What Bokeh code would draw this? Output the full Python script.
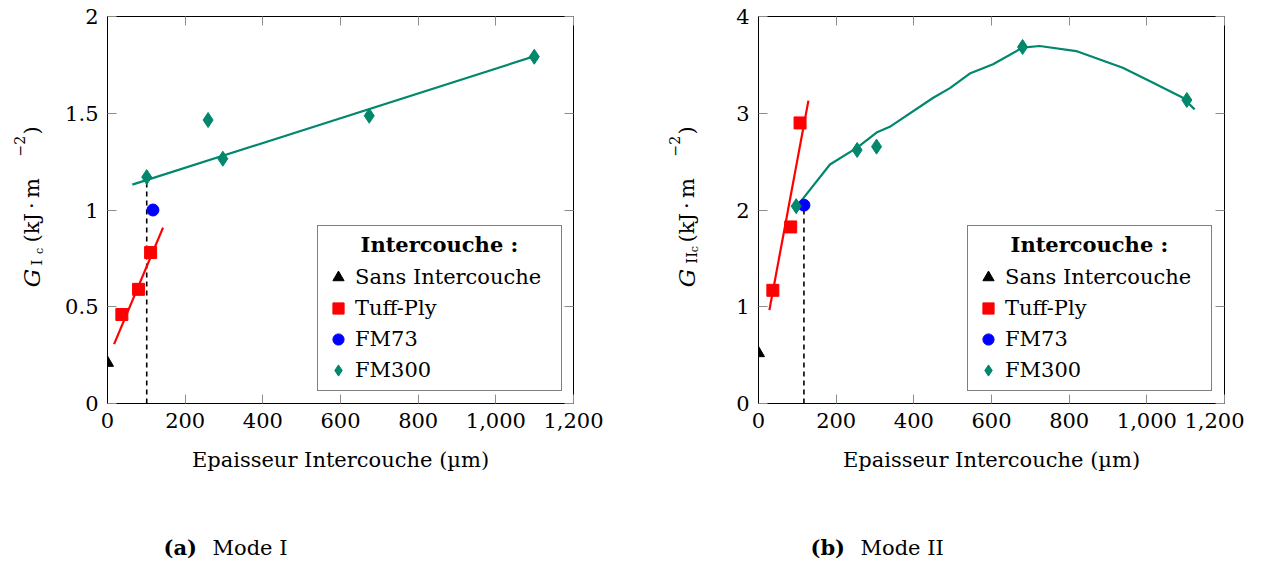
import math
from bokeh.plotting import figure
from bokeh.models import (FixedTicker, LinearAxis, Range1d, Label, Legend, LegendItem,
                          NumeralTickFormatter)
from bokeh.layouts import row, column
from bokeh.embed import file_html
from bokeh.resources import INLINE

FONT = "DejaVu Serif"
TEAL = "#00876C"
TICK_GREY = "#8c8c8c"

# ---------------- data : Mode I ----------------
sans_x_I = [0]
sans_y_I = [0.21]
tuff_x_I = [37, 80, 111]
tuff_y_I = [0.46, 0.59, 0.78]
fm73_x_I = [117]
fm73_y_I = [1.0]
fm300_x_I = [101, 259, 297, 674, 1099]
fm300_y_I = [1.17, 1.465, 1.265, 1.487, 1.792]
tuff_fit_x_I = [17, 143]
tuff_fit_y_I = [0.307, 0.909]
fm300_fit_x_I = [64, 1100]
fm300_fit_y_I = [1.131, 1.795]
dash_x_I = [101, 101]
dash_y_I = [0, 1.16]

# ---------------- data : Mode II ----------------
sans_x_II = [0]
sans_y_II = [0.52]
tuff_x_II = [37, 83, 107]
tuff_y_II = [1.17, 1.825, 2.90]
fm73_x_II = [117]
fm73_y_II = [2.05]
fm300_x_II = [97, 254, 304, 680, 1103]
fm300_y_II = [2.04, 2.62, 2.655, 3.685, 3.137]
tuff_fit_x_II = [28, 128.5]
tuff_fit_y_II = [0.965, 3.13]
fm300_curve_x_II = [111, 184, 254, 304, 338, 450, 493, 544, 604, 680, 724, 818, 938, 1007, 1093, 1123]
fm300_curve_y_II = [2.10, 2.47, 2.645, 2.80, 2.86, 3.16, 3.26, 3.41, 3.506, 3.678, 3.695, 3.643, 3.47, 3.334, 3.16, 3.04]
dash_x_II = [117, 117]
dash_y_II = [0, 2.05]

# ---------------- ticks / labels ----------------
x_ticks = [0, 200, 400, 600, 800, 1000, 1200]
y_ticks_I = [0, 0.5, 1, 1.5, 2]
y_ticks_II = [0, 1, 2, 3, 4]
x_label = "Epaisseur Intercouche (µm)"
legend_title = "Intercouche :"
legend_labels = ["Sans Intercouche", "Tuff-Ply", "FM73", "FM300"]

TOP_H = 508
FRAME_BOTTOM = 16 + 387  # page y of the plot frames' bottom edge


def mirror_axis(ticks):
    return LinearAxis(ticker=FixedTicker(ticks=ticks), major_label_text_font_size="1px",
                      major_label_text_color=None, major_label_standoff=0,
                      major_tick_in=9, major_tick_out=0, minor_tick_in=0, minor_tick_out=0,
                      axis_line_color=None, major_tick_line_color=TICK_GREY)


def make_fig(ymax, yticks, yfmt, left, right):
    p = figure(frame_width=466, frame_height=387, x_range=Range1d(0, 1200),
               y_range=Range1d(0, ymax), output_backend="svg", toolbar_location=None,
               min_border_left=left, min_border_right=right, min_border_top=16,
               min_border_bottom=TOP_H - 16 - 387)
    p.grid.visible = False
    p.outline_line_color = "black"
    p.outline_line_width = 1
    for ax, ticks, fmt in ((p.xaxis[0], x_ticks, "0,0"), (p.yaxis[0], yticks, yfmt)):
        ax.ticker = FixedTicker(ticks=ticks)
        ax.formatter = NumeralTickFormatter(format=fmt)
        ax.major_tick_in = 9
        ax.major_tick_out = 0
        ax.minor_tick_in = 0
        ax.minor_tick_out = 0
        ax.major_tick_line_color = TICK_GREY
        ax.axis_line_color = "black"
        ax.major_label_text_font = FONT
        ax.major_label_text_font_size = "21px"
        ax.major_label_text_color = "black"
        ax.major_label_standoff = 9
    p.xaxis[0].axis_label = x_label
    p.xaxis[0].axis_label_text_font = FONT
    p.xaxis[0].axis_label_text_font_size = "21px"
    p.xaxis[0].axis_label_text_font_style = "normal"
    p.xaxis[0].axis_label_text_color = "black"
    p.xaxis[0].axis_label_standoff = 17
    p.add_layout(mirror_axis(x_ticks), "above")
    p.add_layout(mirror_axis(yticks), "right")
    return p


def blank_fig(w, h, top=0, bottom=0):
    f = figure(width=w, height=h, output_backend="svg", toolbar_location=None,
               x_axis_location=None, y_axis_location=None, min_border=0,
               min_border_top=top, min_border_bottom=bottom,
               x_range=Range1d(0, 1), y_range=Range1d(0, 1))
    f.grid.visible = False
    f.outline_line_color = None
    return f


def ylabel_fig(w, base_x, roman_sub, sub_start, c_start):
    # its frame lines up with the plot frame (page y 16..403); y measured up from 403
    f = blank_fig(w, TOP_H, top=16, bottom=TOP_H - FRAME_BOTTOM)
    common = dict(x_units="screen", y_units="screen", angle=math.pi / 2,
                  text_font=FONT, text_color="black", text_align="left",
                  text_baseline="alphabetic")
    f.add_layout(Label(x=base_x, y=FRAME_BOTTOM - 286.7, text="G", text_font_size="23px",
                       text_font_style="italic", **common))
    f.add_layout(Label(x=base_x + 5.5, y=FRAME_BOTTOM - sub_start, text=roman_sub,
                       text_font_size="15px", **common))
    f.add_layout(Label(x=base_x + 7.5, y=FRAME_BOTTOM - c_start, text="c",
                       text_font_size="11px", **common))
    f.add_layout(Label(x=base_x, y=FRAME_BOTTOM - 242, text="(kJ\u2009·\u2009m",
                       text_font_size="21px", **common))
    f.add_layout(Label(x=base_x - 12, y=FRAME_BOTTOM - 156, text="−2", text_font_size="14px", **common))
    f.add_layout(Label(x=base_x, y=FRAME_BOTTOM - 134, text=")", text_font_size="21px", **common))
    return f


def populate(p, d, legend_x):
    p.line(d["dash_x"], d["dash_y"], line_color="black", line_width=1.6, line_dash="5 4")
    p.line(d["tuff_fit_x"], d["tuff_fit_y"], line_color="red", line_width=2.2)
    p.line(d["fm300_fit_x"], d["fm300_fit_y"], line_color=TEAL, line_width=2.2)
    r_s = p.scatter(d["sans_x"], d["sans_y"], marker="triangle", size=12, color="black")
    r_t = p.scatter(d["tuff_x"], d["tuff_y"], marker="square", size=12, color="red")
    r_f = p.scatter(d["fm73_x"], d["fm73_y"], marker="circle", size=12, color="blue")
    r_d = p.scatter(d["fm300_x"], d["fm300_y"], marker="diamond", size=15, color=TEAL)
    items = [LegendItem(label=lab, renderers=[r]) for lab, r in zip(legend_labels, [r_s, r_t, r_f, r_d])]
    leg = Legend(items=items, location=(legend_x, 12),
                 title="\u00a0\u00a0\u00a0\u00a0\u00a0" + legend_title,
                 title_text_font=FONT, title_text_font_style="bold", title_text_font_size="21px",
                 title_text_color="black", title_standoff=6,
                 label_text_font=FONT, label_text_font_size="21px", label_text_color="black",
                 glyph_width=28, glyph_height=28, label_height=28, label_width=200,
                 spacing=3, padding=6, label_standoff=3, margin=0,
                 border_line_color="black", border_line_width=1,
                 background_fill_color="white", background_fill_alpha=1)
    p.add_layout(leg)


# left block: y-label strip (0..50), plot (50..650)
yl1 = ylabel_fig(50, 31, "I", 265, 253.5)
p1 = make_fig(2, y_ticks_I, "0.[0]", 57, 77)
populate(p1, dict(dash_x=dash_x_I, dash_y=dash_y_I, tuff_fit_x=tuff_fit_x_I, tuff_fit_y=tuff_fit_y_I,
                  fm300_fit_x=fm300_fit_x_I, fm300_fit_y=fm300_fit_y_I,
                  sans_x=sans_x_I, sans_y=sans_y_I, tuff_x=tuff_x_I, tuff_y=tuff_y_I,
                  fm73_x=fm73_x_I, fm73_y=fm73_y_I, fm300_x=fm300_x_I, fm300_y=fm300_y_I), 210)

# right block: y-label strip (650..705), plot (705..1244)
yl2 = ylabel_fig(55, 36, "II", 263.3, 251.7)
p2 = make_fig(4, y_ticks_II, "0", 53, 20)
populate(p2, dict(dash_x=dash_x_II, dash_y=dash_y_II, tuff_fit_x=tuff_fit_x_II, tuff_fit_y=tuff_fit_y_II,
                  fm300_fit_x=fm300_curve_x_II, fm300_fit_y=fm300_curve_y_II,
                  sans_x=sans_x_II, sans_y=sans_y_II, tuff_x=tuff_x_II, tuff_y=tuff_y_II,
                  fm73_x=fm73_x_II, fm73_y=fm73_y_II, fm300_x=fm300_x_II, fm300_y=fm300_y_II), 209)

# captions strip
CAP_H = 52
cap = blank_fig(1244, CAP_H)
ccommon = dict(x_units="screen", y_units="screen", text_font=FONT, text_color="black",
               text_font_size="21px", text_baseline="alphabetic", text_align="left")
cap.add_layout(Label(x=163, y=13, text="(a)", text_font_style="bold", **ccommon))
cap.add_layout(Label(x=212, y=13, text="Mode I", **ccommon))
cap.add_layout(Label(x=810, y=13, text="(b)", text_font_style="bold", **ccommon))
cap.add_layout(Label(x=860, y=13, text="Mode II", **ccommon))

layout = column(row(yl1, p1, yl2, p2, spacing=0), cap, spacing=0)
open("out.html", "w").write(file_html(layout, INLINE))
